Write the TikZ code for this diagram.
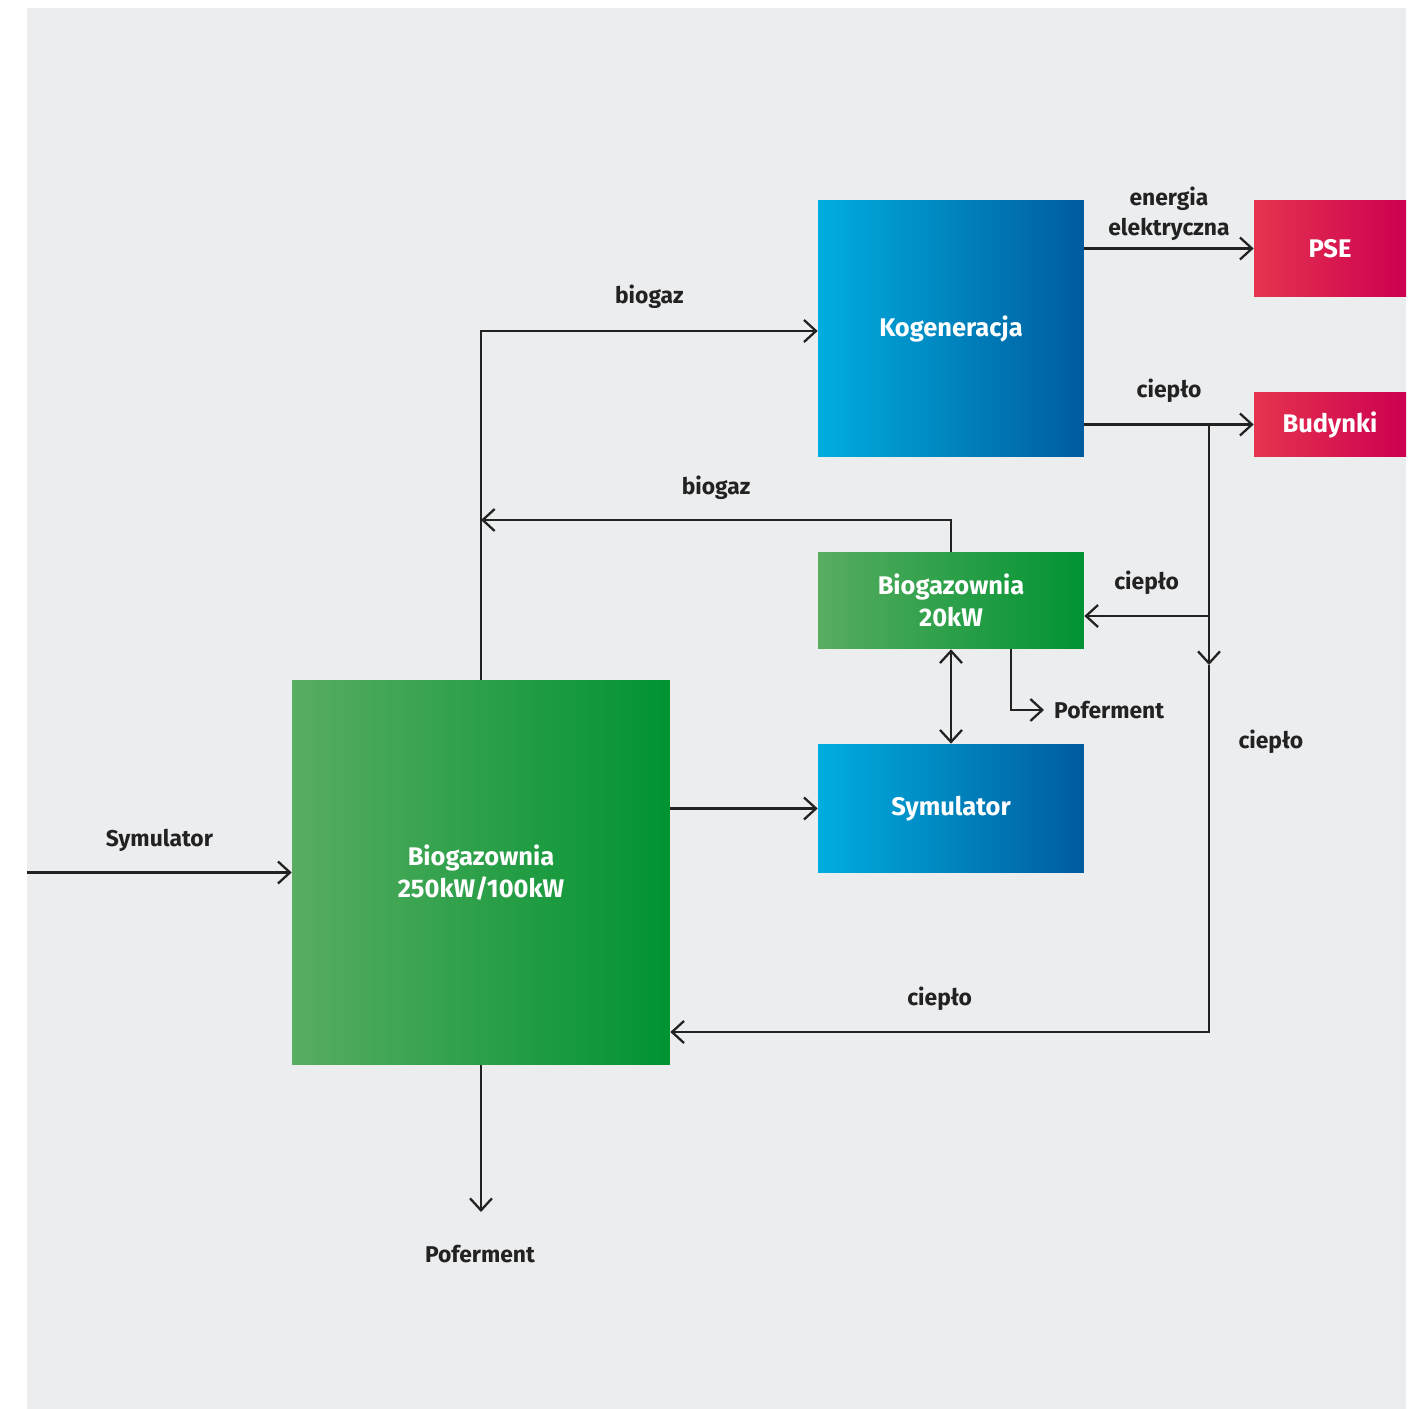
\documentclass[tikz,border=0pt]{standalone}
\usepackage{fontspec}
\setmainfont{Fira Sans}
\usepackage{tikz}
\usetikzlibrary{arrows.meta,calc,positioning}
\definecolor{bggray}{HTML}{ECEDEF}
\definecolor{linegray}{HTML}{222222}
\definecolor{cyanL}{HTML}{00AEDF}
\definecolor{blueR}{HTML}{005B9E}
\definecolor{greenL}{HTML}{58AD60}
\definecolor{greenR}{HTML}{009332}
\definecolor{redL}{HTML}{E6344F}
\definecolor{redR}{HTML}{CC0050}

\begin{document}
\begin{tikzpicture}[x=0.02cm,y=-0.02cm,
    font=\fontsize{13}{17}\selectfont\bfseries,
    box/.style={inner sep=0pt,text=white,align=center,
      font=\fontsize{14.5}{19.5}\selectfont\bfseries},
    bluebox/.style={box,left color=cyanL,right color=blueR},
    greenbox/.style={box,left color=greenL,right color=greenR},
    redbox/.style={box,left color=redL,right color=redR},
    barb/.tip={Straight Barb[length=0.24cm,width=0.44cm,line width=1.3pt]},
    arr/.style={draw=linegray,line width=1.3pt,-barb},
    dblarr/.style={draw=linegray,line width=1.3pt,barb-barb},
    lbl/.style={text=linegray,align=center}]
        % Background and margins
        \useasboundingbox (0,0) rectangle (1420,1409);
        \fill[bggray] (27,8) rectangle (1406,1409);
        % Blocks
        \node[bluebox,minimum width=5.32cm,minimum height=5.14cm] (kog) at (951,328.5) {Kogeneracja};
        \node[redbox,minimum width=3.04cm,minimum height=1.94cm] (pse) at (1330,248.5) {PSE};
        \node[redbox,minimum width=3.04cm,minimum height=1.30cm] (bud) at (1330,424.5) {Budynki};
        \node[greenbox,minimum width=5.32cm,minimum height=1.94cm] (bio20) at (951,600.5) {Biogazownia\\[-1pt]20kW};
        \node[bluebox,minimum width=5.32cm,minimum height=2.58cm] (sym) at (951,808.5) {Symulator};
        \node[greenbox,minimum width=7.56cm,minimum height=7.70cm] (bio250) at (481,872.5) {Biogazownia\\[-1pt]250kW/100kW};
        % Free ends and junctions
        \coordinate (gas) at (481,520);
        \coordinate (heat) at (1209,424.5);
        \coordinate (heatmid) at (1209,665);
        \coordinate (heatbr) at (1209,616);
        \coordinate (heatlow) at (1209,1032);
        \coordinate (input) at (27,872.5);
        \coordinate (output) at (481,1212);
        % Labels
        \node[lbl,anchor=west] (pof20) at (1048,710) {Poferment};
        \node[lbl] (pof250) at (480,1254) {Poferment};
        % biogaz flows
        \draw[arr] (bio250.north) |- ([yshift=-0.05cm]kog.west) node[lbl,pos=0.75,above=0.3cm] {biogaz};
        \draw[arr] (bio20.north) |- (gas) node[lbl,pos=0.75,above=0.27cm] {biogaz};
        % Kogeneracja outputs
        \draw[arr] (kog.east |- pse) -- (pse.west) node[lbl,midway,above=0.02cm] {energia\\elektryczna};
        \draw[arr] (kog.east |- bud) -- (bud.west) node[lbl,midway,above=0.3cm] {ciepło};
        % Heat distribution
        \draw[arr] (heat) -- (heatmid);
        \draw[arr] (heatmid) |- (bio250.east |- heatlow) node[lbl,pos=0.105,right=0.45cm] {ciepło}
          node[lbl,pos=0.75,above=0.28cm] {ciepło};
        \draw[arr] (heatbr) -- (bio20.east |- heatbr) node[lbl,midway,above=0.28cm] {ciepło};
        % Biogazownia 20kW links
        \draw[dblarr] (bio20.south) -- (sym.north);
        \draw[arr] ([xshift=1.2cm]bio20.south) |- ([xshift=-0.08cm]pof20.west);
        % Biogazownia 250kW/100kW links
        \draw[arr] (bio250.east |- sym) -- (sym.west);
        \draw[arr] (input) -- (bio250.west) node[lbl,midway,above=0.28cm] {Symulator};
        \draw[arr] (bio250.south) -- (output);
\end{tikzpicture}
\end{document}
